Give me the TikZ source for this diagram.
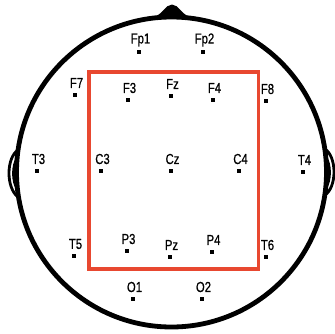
\documentclass[tikz,border=0pt]{standalone}
\usepackage{fontspec}
\newfontfamily\lab[FakeStretch=0.78,FakeBold=0.6]{Liberation Sans}
\definecolor{boxred}{RGB}{232,72,48}
\begin{document}
\begin{tikzpicture}[x=1pt,y=-1pt,
  dot/.style={fill=black,inner sep=0pt,minimum size=3.2pt,shape=rectangle},
  lbl/.style={inner sep=0pt,font=\lab\fontsize{14.5}{15}\selectfont},
  head/.style={line width=4.8pt},
  ear/.style={line width=2.8pt}]
\useasboundingbox (0,0) rectangle (335,333);
% head
\draw[head] (171.5,172) circle (155);
% nose
\fill (154,17) .. controls (163,14) and (165,5) .. (172,4.5) .. controls (179,5) and (181,14) .. (190,17) -- cycle;
% ears
\draw[ear] (18,150) .. controls (6,158) and (6,188) .. (18,197);
\draw[ear] (18,157) .. controls (12,165) and (12,182) .. (18,190);
\draw[ear] (325,149) .. controls (337,157) and (337,187) .. (325,195);
\draw[ear] (325,156) .. controls (331,164) and (331,181) .. (325,189);
% box
\draw[boxred,line width=3.6pt] (89,72) rectangle (258.5,269);
% electrodes
\foreach \n/\x/\y in {Fp1/139/52, Fp2/203/52, F7/75/95, F3/128/100, Fz/171/96,
  F4/213/100, F8/266/101, T3/37/171, C3/101/171, Cz/171/171, C4/239/171,
  T4/303/172, T5/74/256, P3/127/251, Pz/170/257, P4/212/252, T6/266/257,
  O1/133/299, O2/202/299}{
  \node[dot] (\n) at (\x,\y) {};
  \node[lbl] (\n-t) at (\x+1.5,\y-12) {\n};
}
\end{tikzpicture}
\end{document}
